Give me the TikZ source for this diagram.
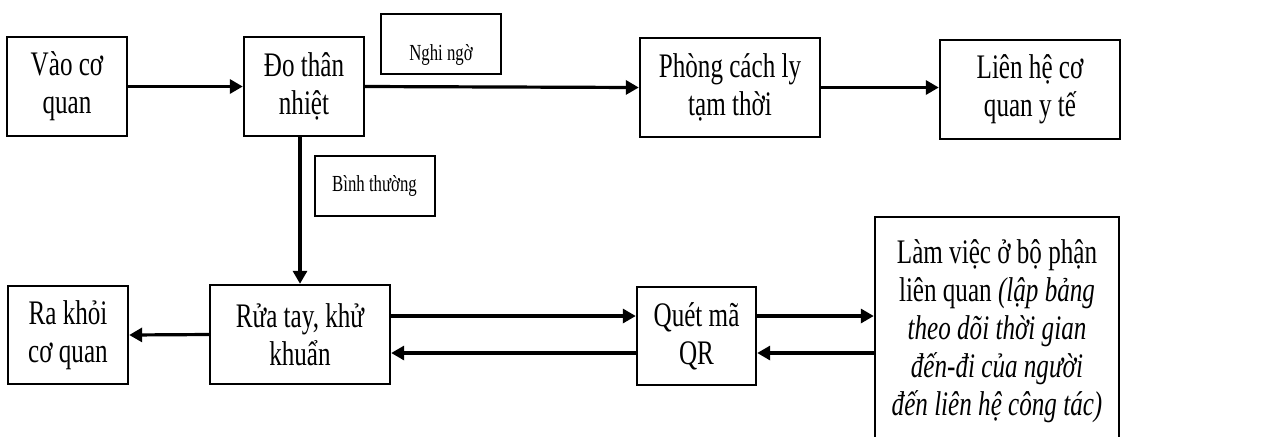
\documentclass[tikz,border=0pt]{standalone}
\usepackage{fontspec}
\setmainfont[FakeStretch=0.73]{Liberation Serif}
\usepackage{tikz}
\usetikzlibrary{arrows.meta,calc,positioning}
\tikzstyle{flowbox} = [draw=black, line width=1.2pt, rectangle, align=center,
    inner sep=0pt, font=\fontsize{17.2}{19}\selectfont]
\tikzstyle{tagbox} = [draw=black, line width=1pt, rectangle, align=center,
    inner sep=0pt, minimum width=60pt, minimum height=30pt,
    font=\fontsize{11.5}{13}\selectfont]
\tikzstyle{flowarrow} = [line width=1.6pt, -{Triangle[length=6.5pt,width=7pt]}]

\begin{document}
\begin{tikzpicture}[x=0.5pt,y=-0.5pt]
\clip (0,0) rectangle (1264,436);
% top row
\node [flowbox, minimum width=60pt, minimum height=49.5pt] (vao) at (67,86.5) {Vào cơ\\quan};
\node [flowbox, minimum width=60pt, minimum height=49.5pt] (dotn) at (304,86.5) {Đo thân\\nhiệt};
\node [flowbox, minimum width=90pt, minimum height=49.5pt] (phong) at (730,87.5) {Phòng cách ly\\tạm thời};
\node [flowbox, minimum width=90pt, minimum height=49.5pt] (lienhe) at (1030,89.5) {Liên hệ cơ\\quan y tế};
\node [tagbox, text height=17pt, text depth=0pt] (nghi) at (441,43.5) {Nghi ngờ};
\node [tagbox] (binh) at (374.5,186) {Bình thường};
% bottom row
\node [flowbox, minimum width=60pt, minimum height=49pt] (ra) at (68,335) {Ra khỏi\\cơ quan};
\node [flowbox, minimum width=90pt, minimum height=49.5pt] (rua) at (300,334.5) {Rửa tay, khử\\khuẩn};
\node [flowbox, minimum width=59.5pt, minimum height=49pt] (quet) at (696.5,336) {Quét mã\\QR};
\node [flowbox, minimum width=122pt, minimum height=114pt] (lam) at (997,331) {Làm việc ở bộ phận\\liên quan \textit{(lập bảng}\\\textit{theo dõi thời gian}\\\textit{đến-đi của người}\\\textit{đến liên hệ công tác)}};

\draw [flowarrow] (vao.east) -- (dotn.west);
\draw [flowarrow] (dotn.east) -- (phong.west);
\draw [flowarrow] (phong.east) -- (phong.east -| lienhe.west);
\draw [flowarrow] (rua.north |- dotn.south) -- (rua.north);
\draw [flowarrow] (rua.west) -- (ra.east);
\draw [flowarrow] ($(rua.east)+(0,-18.5)$) -- ($(quet.west)+(0,-20)$);
\draw [flowarrow] ($(quet.west)+(0,17)$) -- ($(rua.east)+(0,18.5)$);
\draw [flowarrow] ($(quet.east)+(0,-20)$) -- ($(quet.east -| lam.west)+(0,-20)$);
\draw [flowarrow] ($(quet.east -| lam.west)+(0,17)$) -- ($(quet.east)+(0,17)$);
\end{tikzpicture}
\end{document}
